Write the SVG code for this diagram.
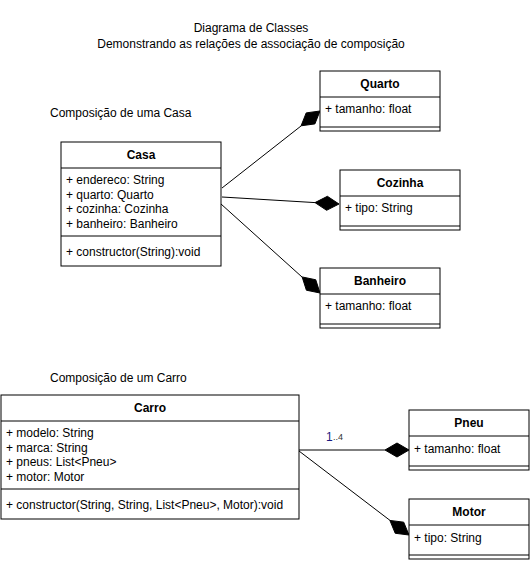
<svg xmlns="http://www.w3.org/2000/svg" width="530" height="561" viewBox="0 0 530 561">
<style>
text{font-family:"Liberation Sans",Arial,sans-serif;font-size:12px;fill:#000}
.t{font-weight:bold;text-anchor:middle}
.box{fill:#fff;stroke:#000;stroke-width:1}
.ln{stroke:#000;stroke-width:1}
.con{stroke:#000;stroke-width:1;fill:none}
.dia{fill:#000;stroke:#000;stroke-width:1}
</style>
<rect width="530" height="561" fill="#fff"/>
<g id="title">
<text x="251" y="32" text-anchor="middle">Diagrama de Classes</text>
<text x="251" y="48" text-anchor="middle">Demonstrando as relações de associação de composição</text>
</g>
<text x="50" y="117">Composição de uma Casa</text>
<text x="50" y="382">Composição de um Carro</text>

<g id="connectors">
<line class="con" x1="222" y1="188" x2="301" y2="126"/>
<polygon class="dia" points="320,111 306.2,112.9 301.1,125.8 314.9,123.9"/>
<line class="con" x1="222" y1="197" x2="315" y2="202.6"/>
<polygon class="dia" points="339,204 327.4,196.3 315,202.6 326.6,210.3"/>
<line class="con" x1="221" y1="204" x2="302" y2="277"/>
<polygon class="dia" points="320,293 315.75,279.77 302.15,276.95 306.39,290.19"/>
<line class="con" x1="299" y1="450" x2="385" y2="450"/>
<polygon class="dia" points="409,450 397,443 385,450 397,457"/>
<line class="con" x1="299" y1="451" x2="390" y2="520.4"/>
<polygon class="dia" points="409,535 403.71,522.16 389.92,520.43 395.21,533.28"/>
<text x="326" y="441" style="fill:#1a1a80">1</text>
<text x="333" y="440" style="font-size:9px;fill:#333">..4</text>
</g>

<g id="casa">
<rect class="box" x="61" y="142" width="160" height="124"/>
<line class="ln" x1="61" y1="168" x2="221" y2="168"/>
<line class="ln" x1="61" y1="236" x2="221" y2="236"/>
<text class="t" x="141" y="159">Casa</text>
<text x="66" y="184">+ endereco: String</text>
<text x="66" y="199">+ quarto: Quarto</text>
<text x="66" y="213">+ cozinha: Cozinha</text>
<text x="66" y="228">+ banheiro: Banheiro</text>
<text x="66" y="256">+ constructor(String):void</text>
</g>

<g id="quarto">
<rect class="box" x="320" y="71" width="120" height="60"/>
<line class="ln" x1="320" y1="97" x2="440" y2="97"/>
<line class="ln" x1="320" y1="127" x2="440" y2="127"/>
<text class="t" x="380" y="88">Quarto</text>
<text x="325" y="113">+ tamanho: float</text>
</g>

<g id="cozinha">
<rect class="box" x="340" y="170" width="120" height="60"/>
<line class="ln" x1="340" y1="196" x2="460" y2="196"/>
<line class="ln" x1="340" y1="226" x2="460" y2="226"/>
<text class="t" x="400" y="187">Cozinha</text>
<text x="345" y="212">+ tipo: String</text>
</g>

<g id="banheiro">
<rect class="box" x="320" y="268" width="120" height="60"/>
<line class="ln" x1="320" y1="294" x2="440" y2="294"/>
<line class="ln" x1="320" y1="324" x2="440" y2="324"/>
<text class="t" x="380" y="285">Banheiro</text>
<text x="325" y="310">+ tamanho: float</text>
</g>

<g id="carro">
<rect class="box" x="1" y="395" width="298" height="124"/>
<line class="ln" x1="1" y1="421" x2="299" y2="421"/>
<line class="ln" x1="1" y1="489" x2="299" y2="489"/>
<text class="t" x="150" y="412">Carro</text>
<text x="6" y="437">+ modelo: String</text>
<text x="6" y="452">+ marca: String</text>
<text x="6" y="466">+ pneus: List&lt;Pneu&gt;</text>
<text x="6" y="481">+ motor: Motor</text>
<text x="6" y="509">+ constructor(String, String, List&lt;Pneu&gt;, Motor):void</text>
</g>

<g id="pneu">
<rect class="box" x="409" y="410" width="120" height="60"/>
<line class="ln" x1="409" y1="436" x2="529" y2="436"/>
<line class="ln" x1="409" y1="466" x2="529" y2="466"/>
<text class="t" x="469" y="427">Pneu</text>
<text x="414" y="453">+ tamanho: float</text>
</g>

<g id="motor">
<rect class="box" x="409" y="499" width="120" height="60"/>
<line class="ln" x1="409" y1="525" x2="529" y2="525"/>
<line class="ln" x1="409" y1="555" x2="529" y2="555"/>
<text class="t" x="469" y="516">Motor</text>
<text x="414" y="542">+ tipo: String</text>
</g>
</svg>
